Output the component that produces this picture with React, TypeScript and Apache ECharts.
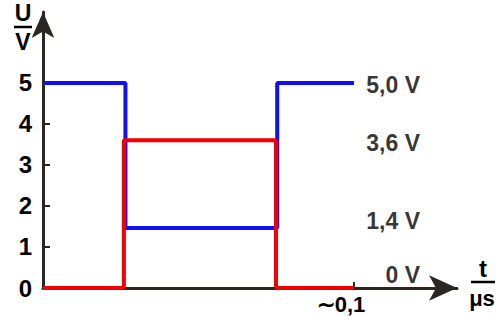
import React, { useEffect, useRef } from "react";
import * as echarts from "echarts";

const yTicks = [0, 1, 2, 3, 4, 5];
const xTicks = [0.1];
const xTickLabels = ["∼0,1"];
const blueT = [0, 0.0265, 0.0265, 0.0753, 0.0753, 0.1];
const blueU = [5, 5, 1.46, 1.46, 5, 5];
const redT = [0, 0.026, 0.026, 0.0749, 0.0749, 0.1];
const redU = [0, 0, 3.6, 3.6, 0, 0];
const levelValues = [5.0, 3.6, 1.4, 0];
const levelLabels = ["5,0 V", "3,6 V", "1,4 V", "0 V"];

const AXIS = "#2b2622";
const FONT = "Liberation Sans, Arial, sans-serif";

export default function App() {
  const ref = useRef<HTMLDivElement>(null);
  useEffect(() => {
    if (!ref.current) return;
    const chart = echarts.init(ref.current, null, { renderer: "svg" });
    const labelOffsets = [[0, 2], [0, 3], [0, -10], [0, -13]];
    chart.setOption({
      animation: false,
      grid: { left: 43, right: 43, top: 12, bottom: 28, containLabel: false, outerBoundsMode: "none" },
      xAxis: {
        type: "value",
        min: 0,
        max: 0.1331,
        splitLine: { show: false },
        axisLine: {
          show: true,
          onZero: false,
          symbol: ["none", "arrow"],
          symbolSize: [19, 28],
          lineStyle: { color: AXIS, width: 3 },
        },
        axisTick: {
          show: true,
          inside: true,
          length: 6,
          customValues: xTicks,
          lineStyle: { color: AXIS, width: 2 },
        },
        axisLabel: {
          customValues: xTicks,
          formatter: (v: number) => xTickLabels[xTicks.indexOf(v)] ?? "",
          fontSize: 22,
          fontWeight: "bold",
          fontFamily: FONT,
          color: "#000",
          margin: 5,
          padding: [0, 26, 0, 0],
        },
      },
      yAxis: {
        type: "value",
        min: 0,
        max: 6.73,
        splitLine: { show: false },
        axisLine: {
          show: true,
          onZero: false,
          symbol: ["none", "arrow"],
          symbolSize: [17, 26],
          lineStyle: { color: AXIS, width: 3 },
        },
        axisTick: {
          show: true,
          inside: true,
          length: 7,
          customValues: yTicks.filter((v) => v > 0),
          lineStyle: { color: AXIS, width: 2 },
        },
        axisLabel: {
          customValues: yTicks,
          fontSize: 24,
          fontWeight: "bold",
          fontFamily: FONT,
          color: "#000",
          margin: 11,
        },
      },
      series: [
        {
          type: "line",
          data: blueT.map((t, i) => [t, blueU[i]]),
          showSymbol: false,
          symbol: "none",
          lineStyle: { color: "#1010f0", width: 4 },
          z: 3,
        },
        {
          type: "line",
          data: redT.map((t, i) => [t, redU[i]]),
          showSymbol: false,
          symbol: "none",
          lineStyle: { color: "#f00000", width: 4 },
          z: 4,
        },
        {
          type: "scatter",
          symbolSize: 0,
          silent: true,
          data: levelValues.map((v, i) => ({
            value: [0.1212, v],
            label: {
              show: true,
              position: "left",
              distance: 0,
              offset: labelOffsets[i],
              formatter: levelLabels[i],
              fontSize: 23,
              fontWeight: "bold",
              fontFamily: FONT,
              color: "#000",
            },
          })),
        },
      ],
      graphic: [
        { type: "text", x: 23, y: 13, style: { text: "U", fontSize: 23, fontWeight: "bold", fontFamily: FONT, fill: "#000", align: "center", verticalAlign: "middle" } },
        { type: "line", shape: { x1: 14, y1: 27, x2: 32, y2: 27 }, style: { stroke: "#000", lineWidth: 2.5 } },
        { type: "text", x: 23, y: 42, style: { text: "V", fontSize: 23, fontWeight: "bold", fontFamily: FONT, fill: "#000", align: "center", verticalAlign: "middle" } },
        { type: "text", x: 483, y: 268, style: { text: "t", fontSize: 24, fontWeight: "bold", fontFamily: FONT, fill: "#000", align: "center", verticalAlign: "middle" } },
        { type: "line", shape: { x1: 471, y1: 282, x2: 495, y2: 282 }, style: { stroke: "#000", lineWidth: 2.5 } },
        { type: "text", x: 482, y: 298, style: { text: "μs", fontSize: 22, fontWeight: "bold", fontFamily: FONT, fill: "#000", align: "center", verticalAlign: "middle" } },
      ],
    });
    return () => chart.dispose();
  }, []);
  return (
    <div
      ref={ref}
      style={{ position: "fixed", left: 0, top: 0, width: 500, height: 316, background: "#fff" }}
    />
  );
}
